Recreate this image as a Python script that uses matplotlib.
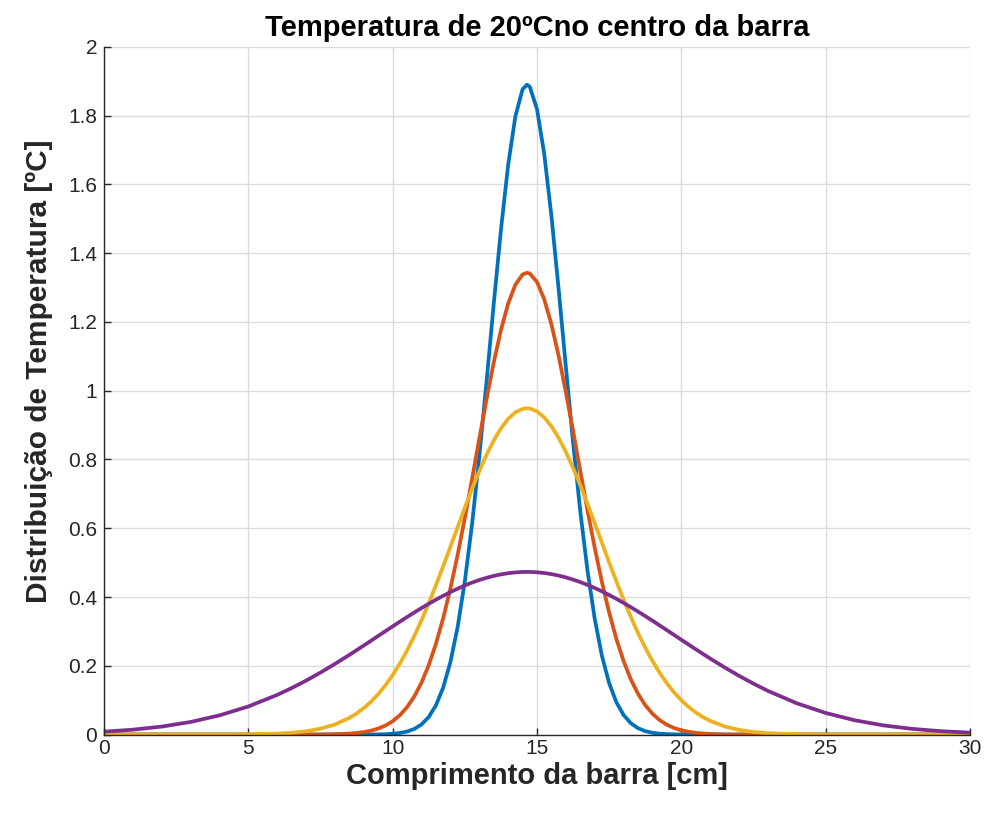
import matplotlib
matplotlib.use("Agg")
import matplotlib.pyplot as plt
from matplotlib.ticker import FuncFormatter

# posicoes ao longo da barra [cm]
x = [0, 1, 2, 3, 4, 5, 6, 6.5, 7, 7.5, 8, 8.5,
     8.75, 9, 9.25, 9.5, 9.75, 10, 10.25, 10.5, 10.75, 11, 11.25,
     11.5, 11.75, 12, 12.25, 12.5, 12.75, 13, 13.25, 13.5, 13.75, 14, 14.25, 14.5,
     14.65, 14.75, 15, 15.25, 15.5, 15.75, 16, 16.25, 16.5, 16.75, 17, 17.25, 17.5, 17.75,
     18, 18.25, 18.5, 18.75, 19, 19.25, 19.5, 19.75, 20, 20.25, 20.5, 20.75, 21,
     21.5, 22, 22.5, 23, 24, 25, 26, 27, 28, 29, 30]

# temperatura em cada instante [ºC]
t1 = [0, 0, 0, 0, 0, 0, 0, 0, 0, 0, 0, 0,
      0, 0, 0.0002, 0.0005, 0.001, 0.0022, 0.0045, 0.0087, 0.0163, 0.0294, 0.0510,
      0.0851, 0.1365, 0.2107, 0.3124, 0.4460, 0.6118, 0.8078, 1.0244, 1.2512, 1.4674, 1.6562, 1.7978, 1.8767,
      1.89, 1.8841, 1.8189, 1.6889, 1.5080, 1.2950, 1.0694, 0.8492, 0.6486, 0.4765, 0.3364, 0.2285, 0.1493, 0.0938,
      0.0567, 0.0329, 0.0184, 0.0099, 0.0051, 0.0025, 0.0012, 0.0006, 0, 0, 0, 0, 0,
      0, 0, 0, 0, 0, 0, 0, 0, 0, 0, 0]

t2 = [0, 0, 0, 0, 0, 0, 0, 0, 0, 0, 0.001, 0.0027,
      0.0045, 0.0072, 0.0113, 0.0174, 0.0262, 0.0388, 0.0562, 0.0798, 0.1109, 0.1513, 0.2019,
      0.2641, 0.3383, 0.4249, 0.5224, 0.6297, 0.7431, 0.8599, 0.9739, 1.0817, 1.1761, 1.2532, 1.3082, 1.3380,
      1.343, 1.3408, 1.3163, 1.2660, 1.1930, 1.1013, 0.9961, 0.8828, 0.7663, 0.6518, 0.5431, 0.4434, 0.3547, 0.2779,
      0.2134, 0.1605, 0.1183, 0.0854, 0.0604, 0.0418, 0.0284, 0.0189, 0.0123, 0.0079, 0.0049, 0.003, 0.0018,
      0, 0, 0, 0, 0, 0, 0, 0, 0, 0, 0]

t3 = [0, 0, 0, 0, 0, 0.0006, 0.0026, 0.0051, 0.0095, 0.0170, 0.0292, 0.0483,
      0.0612, 0.0769, 0.0955, 0.1176, 0.1433, 0.1730, 0.2066, 0.2446, 0.2865, 0.3325, 0.3819,
      0.4346, 0.4894, 0.5461, 0.6030, 0.6596, 0.7142, 0.7660, 0.8133, 0.8553, 0.8904, 0.9180, 0.9371, 0.9473,
      0.949, 0.9483, 0.9399, 0.9225, 0.8965, 0.8627, 0.8221, 0.7757, 0.7248, 0.6707, 0.6144, 0.5573, 0.5006, 0.4453,
      0.3922, 0.3420, 0.2954, 0.2526, 0.2139, 0.1794, 0.1489, 0.1224, 0.0996, 0.0804, 0.0642, 0.0507, 0.0397,
      0.0236, 0.0135, 0.0074, 0.0039, 0.0010, 0, 0, 0, 0, 0, 0]

t4 = [0.0083, 0.0141, 0.0231, 0.0365, 0.0557, 0.0816, 0.1153, 0.1351, 0.1568, 0.1803, 0.2054, 0.2317,
      0.2453, 0.2590, 0.2728, 0.2868, 0.3007, 0.3145, 0.3283, 0.3418, 0.3550, 0.3679, 0.3803,
      0.3923, 0.4036, 0.4143, 0.4243, 0.4335, 0.4419, 0.4494, 0.4558, 0.4614, 0.4658, 0.4693, 0.4716, 0.4728,
      0.473, 0.4729, 0.4719, 0.4698, 0.4666, 0.4623, 0.4570, 0.4507, 0.4434, 0.4352, 0.4262, 0.4164, 0.4058, 0.3946,
      0.3828, 0.3704, 0.3576, 0.3444, 0.3310, 0.3173, 0.3035, 0.2896, 0.2756, 0.2618, 0.2480, 0.2344, 0.2210,
      0.1952, 0.1707, 0.1479, 0.1269, 0.0909, 0.0627, 0.0416, 0.0266, 0.0164, 0.0097, 0.0055]

cores = ['#0072BD', '#D95319', '#EDB120', '#7E2F8E']
xticks = [0, 5, 10, 15, 20, 25, 30]
yticks = [0, 0.2, 0.4, 0.6, 0.8, 1, 1.2, 1.4, 1.6, 1.8, 2]

eixo = '#262626'
fonte = ['Liberation Sans', 'DejaVu Sans']

fig = plt.figure(figsize=(10, 8.23), dpi=100)
ax = fig.add_axes([0.104, 0.1075, 0.866, 0.8355])

for t, c in zip([t1, t2, t3, t4], cores):
    ax.plot(x, t, color=c, linewidth=2.7, solid_joinstyle='round',
            solid_capstyle='round')

ax.set_xlim(0, 30)
ax.set_ylim(0, 2)
ax.set_xticks(xticks)
ax.set_yticks(yticks)
ax.yaxis.set_major_formatter(FuncFormatter(lambda v, p: f'{v:g}'))
ax.grid(True, color='#dcdcdc', linewidth=1.0)
ax.set_axisbelow(True)

for s in ['top', 'right']:
    ax.spines[s].set_visible(False)
for s in ['left', 'bottom']:
    ax.spines[s].set_color(eixo)
    ax.spines[s].set_linewidth(1.0)

ax.tick_params(direction='in', length=5, width=1, colors=eixo, labelsize=15)
ax.tick_params(axis='x', pad=3)
ax.tick_params(axis='y', pad=5)
for lb in ax.get_xticklabels() + ax.get_yticklabels():
    lb.set_family(fonte)

ax.set_title('Temperatura de 20ºCno centro da barra', family=fonte,
             fontsize=21, fontweight='bold', color='black', pad=8)
ax.set_xlabel('Comprimento da barra [cm]', family=fonte,
              fontsize=21, fontweight='bold', color=eixo, labelpad=3)
ax.set_ylabel('Distribuição de Temperatura [ºC]', family=fonte,
              fontsize=21.5, fontweight='bold', color=eixo)
ax.yaxis.set_label_coords(-0.059, 0.528)

fig.savefig('out.png', dpi=100)
